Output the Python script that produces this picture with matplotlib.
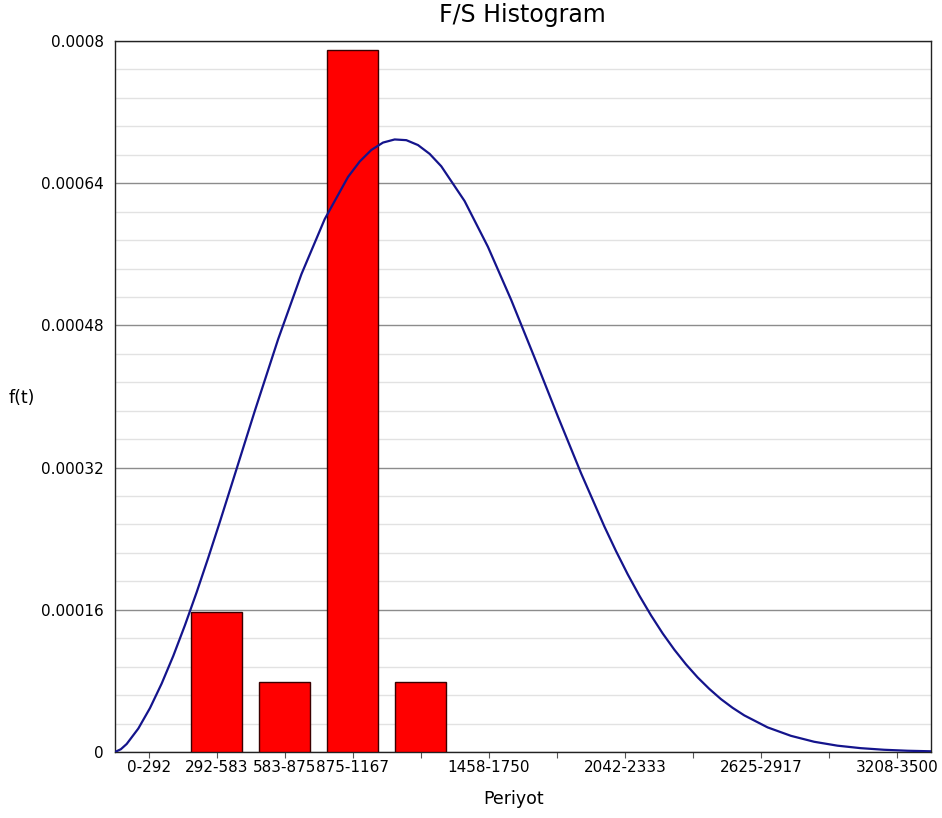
import matplotlib
matplotlib.use("Agg")
import matplotlib.pyplot as plt
from matplotlib.ticker import MultipleLocator, FixedLocator, NullFormatter

# Histogram classes (period ranges) and their density heights
categories = ["0-292", "292-583", "583-875", "875-1167", "1167-1458", "1458-1750",
              "1750-2042", "2042-2333", "2333-2625", "2625-2917", "2917-3208", "3208-3500"]
density = [0.0, 0.000158, 0.000079, 0.00079, 0.000079, 0.0,
           0.0, 0.0, 0.0, 0.0, 0.0, 0.0]
shown_labels = ["0-292", "292-583", "583-875", "875-1167", "1458-1750",
                "2042-2333", "2625-2917", "3208-3500"]

# Fitted density curve f(t), values in units of 1e-6
curve_t = [0, 25, 50, 100, 150, 200, 250, 300, 350, 400, 450, 500, 600, 700, 800, 900,
           1000, 1050, 1100, 1150, 1200, 1250, 1300, 1350, 1400, 1500, 1600, 1700,
           1800, 1900, 2000, 2100, 2150, 2200, 2250, 2300, 2350, 2400, 2450, 2500,
           2550, 2600, 2650, 2700, 2800, 2900, 3000, 3100, 3200, 3300, 3400, 3500]
curve_f_micro = [0.0, 3.1, 9.0, 26.4, 49.4, 76.9, 108.1, 142.6, 179.5, 218.5, 259.0,
                 300.5, 383.9, 464.5, 537.7, 599.7, 647.1, 664.4, 677.4, 685.7, 689.2,
                 688.4, 682.9, 673.0, 659.0, 619.9, 568.5, 508.6, 443.8, 377.7, 313.5,
                 253.6, 225.9, 199.9, 175.9, 153.7, 133.4, 115.1, 98.6, 83.9, 71.0,
                 59.5, 49.7, 41.2, 27.7, 18.2, 11.5, 7.1, 4.3, 2.5, 1.4, 0.8]
curve_f = [v * 1e-6 for v in curve_f_micro]

t_max = 3500.0
n_bins = len(categories)
bin_w = t_max / n_bins
centers = [(i + 0.5) * bin_w for i in range(n_bins)]

fig = plt.figure(figsize=(9.42, 8.18), dpi=100)
ax = fig.add_axes([0.1221, 0.0807, 0.8659, 0.8692])

bar_x = [c for c, d in zip(centers, density) if d > 0]
bar_h = [d for d in density if d > 0]
ax.bar(bar_x, bar_h, width=bin_w * 0.75, color="#ff0000",
       edgecolor="#3a0000", linewidth=1.0, zorder=3)
ax.plot(curve_t, curve_f, color="#14148c", linewidth=1.6, zorder=4)

ax.set_xlim(0, t_max)
ax.set_ylim(0, 0.0008)

# y grid: major every 0.00016, minor every 0.000032
ax.yaxis.set_minor_locator(MultipleLocator(0.000032))
ax.yaxis.set_minor_formatter(NullFormatter())
ax.set_yticks([0, 0.00016, 0.00032, 0.00048, 0.00064, 0.0008])
ax.set_yticklabels(["0", "0.00016", "0.00032", "0.00048", "0.00064", "0.0008"])
ax.grid(axis="y", which="major", color="#8c8c8c", linewidth=1.0, zorder=1)
ax.grid(axis="y", which="minor", color="#e2e2e2", linewidth=1.0, zorder=0)
ax.tick_params(axis="y", which="both", length=0, labelsize=11, pad=8)

# x ticks at every class centre, labels only where they fit
ax.xaxis.set_major_locator(FixedLocator(centers))
ax.set_xticklabels([c if c in shown_labels else "" for c in categories])
ax.tick_params(axis="x", which="major", length=4, width=0.8, color="#555555",
               labelsize=11, pad=2)

for side in ["left", "bottom", "right", "top"]:
    ax.spines[side].set_color("#222222")
    ax.spines[side].set_linewidth(1.0)

fig.text(0.555, 0.982, "F/S Histogram", fontsize=17, ha="center", va="center")
ax.set_xlabel("Periyot", fontsize=12.5)
ax.xaxis.set_label_coords(0.488, -0.053)
fig.text(0.023, 0.513, "f(t)", fontsize=12.5, ha="center", va="center")

fig.savefig("out.png", dpi=100)
